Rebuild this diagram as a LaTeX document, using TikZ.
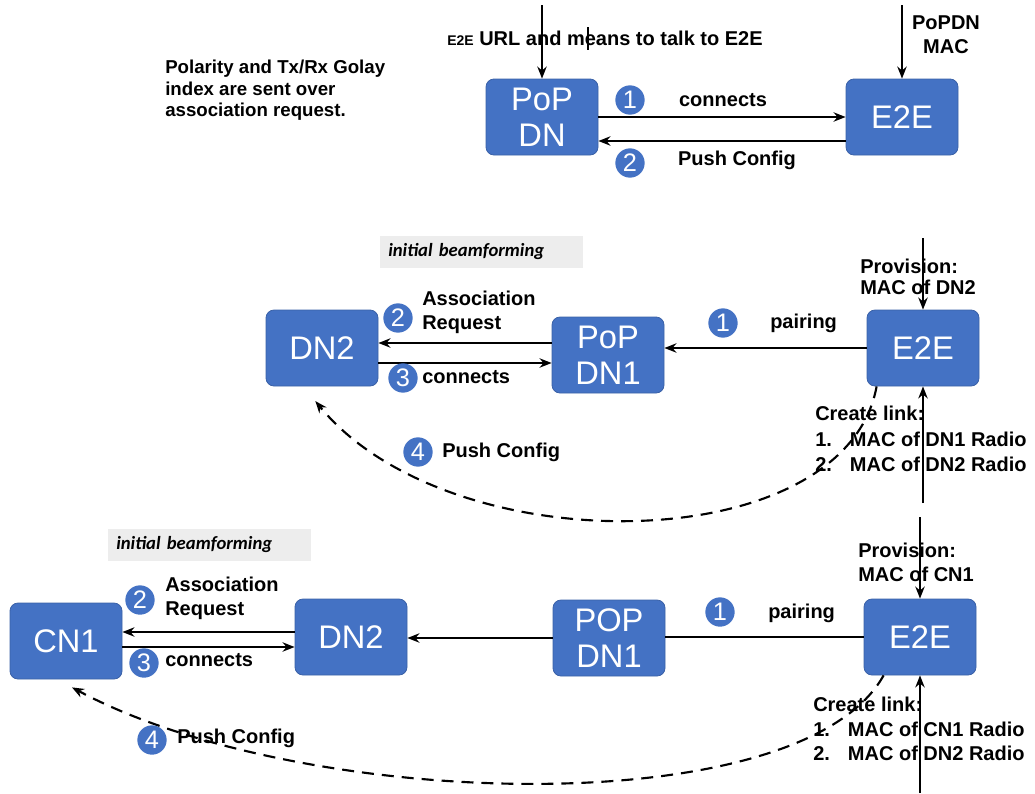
\documentclass[tikz,border=0pt]{standalone}
\usepackage{fontspec}
\setmainfont{Liberation Sans}
\newfontfamily\tagfont{Carlito}
\usetikzlibrary{arrows.meta,calc}
\definecolor{boxblue}{HTML}{4472C4}
\definecolor{graybg}{HTML}{EDEDED}
\begin{document}
\begin{tikzpicture}[x=0.75pt,y=-0.75pt,
 box/.style={draw=boxblue!85!black, line width=0.6pt, fill=boxblue, rounded corners=6pt,
   minimum width=84pt, minimum height=57pt, text=white,
   font=\fontsize{24.5}{27}\selectfont, align=center, inner sep=0pt},
 num/.style={circle, fill=boxblue, text=white, minimum size=22pt, inner sep=0pt,
   font=\fontsize{19}{19}\selectfont},
 lbl/.style={font=\bfseries\fontsize{15}{18}\selectfont, align=left, inner sep=0pt},
 arr/.style={-{Stealth[length=9pt,width=7pt]}, line width=1.7pt},
 pln/.style={line width=1.7pt},
 dsh/.style={dash pattern=on 9pt off 6pt, line width=1.6pt, -{Stealth[length=9pt,width=7pt]}},
 tag/.style={fill=graybg, minimum height=24pt, text width=140pt, align=left, inner xsep=6pt,
   font=\tagfont\bfseries\itshape\fontsize{14}{15}\selectfont}
]
\useasboundingbox (0,0) rectangle (1035,793);

% ---------- top section ----------
\node[box] (pdn) at (542,117) {PoP\\DN};
\node[box] (e2ea) at (902,117) {E2E};

\draw[arr] (pdn.north |- 0,5) -- (pdn.north);
\draw[arr] (e2ea.north |- 0,5) -- (e2ea.north);
\node[lbl, anchor=west] (url) at (447,38) {{\fontsize{10.5}{12}\selectfont E2E} URL and means to talk to E2E};
\draw[line width=0.8pt] (588,27) -- (588,50);
\node[lbl, align=center] (popdnmac) at (946,35) {PoPDN\\MAC};
\node[lbl, anchor=north west, font=\bfseries\fontsize{14}{16}\selectfont] (pol) at (165,60)
  {Polarity and Tx/Rx Golay\\index are sent over\\association request.};

\draw[arr] (pdn.east) -- (pdn.east -| e2ea.west);
\coordinate (pc) at ([yshift=-18pt]e2ea.west);
\draw[arr] (pc) -- (pc -| pdn.east);
\node[num] (n1a) at (630,100) {1};
\node[lbl] (conA) at (723,100) {connects};
\node[num] (n2a) at (630,163) {2};
\node[lbl] (pushA) at (737,160) {Push Config};

% ---------- middle section ----------
\node[tag, anchor=west] (tag1) at (380,252) {initial beamforming};
\node[box] (dn2a) at (322,348) {DN2};
\node[box] (pdn1a) at (608,355) {PoP\\DN1};
\node[box] (e2eb) at (923,348) {E2E};

\draw[arr] (e2eb.west) -- (e2eb.west -| pdn1a.east);
\node[num] (n1b) at (723,323) {1};
\node[lbl, anchor=west] (pairB) at (770,323) {pairing};

\coordinate (a1) at ([yshift=3.75pt]dn2a.east);
\draw[arr] (a1 -| pdn1a.west) -- (a1);
\coordinate (a2) at ([yshift=-11.25pt]dn2a.east);
\draw[arr] (a2) -- (a2 -| pdn1a.west);
\node[num] (n2b) at (398,318) {2};
\node[lbl, anchor=west] (assB) at (422,312) {Association\\Request};
\node[num] (n3b) at (403,378) {3};
\node[lbl, anchor=west] (conB) at (422,377) {connects};

\draw[arr] (e2eb.north |- 0,238) -- (e2eb.north);
\node[lbl, anchor=west, font=\bfseries\fontsize{15}{16}\selectfont] (provB) at (860,277) {Provision:\\MAC of DN2};
\draw[arr] (e2eb.south |- 0,503) -- (e2eb.south);
\node[lbl, anchor=west, font=\bfseries\fontsize{15}{19}\selectfont] (clB) at (815,439)
  {Create link:\\\makebox[26pt][l]{1.}MAC of DN1 Radio\\\makebox[26pt][l]{2.}MAC of DN2 Radio};

\draw[dsh] ([xshift=7.5pt]e2eb.south west) .. controls (845,560) and (450,565) .. ([xshift=-5pt,yshift=-11pt]dn2a.south);
\node[num] (n4b) at (418,452) {4};
\node[lbl, anchor=west] (pushB) at (442,452) {Push Config};

% ---------- bottom section ----------
\node[tag, anchor=west] (tag2) at (108,545) {initial beamforming};
\node[box] (cn1) at (66,641) {CN1};
\node[box] (dn2b) at (351,637) {DN2};
\node[box] (pdn1b) at (609,638) {POP\\DN1};
\node[box] (e2ec) at (920,637) {E2E};

\draw[pln] (e2ec.west) -- (e2ec.west -| pdn1b.east);
\draw[arr] (pdn1b.west) -- (pdn1b.west -| dn2b.east);
\node[num] (n1c) at (720,612) {1};
\node[lbl, anchor=west] (pairC) at (768,613) {pairing};

\coordinate (b1) at ([yshift=3.75pt]dn2b.west);
\draw[arr] (b1) -- (b1 -| cn1.east);
\coordinate (b2) at ([yshift=-7.5pt]dn2b.west);
\draw[arr] (b2 -| cn1.east) -- (b2);
\node[num] (n2c) at (140,600) {2};
\node[lbl, anchor=west] (assC) at (165,598) {Association\\Request};
\node[num] (n3c) at (144,663) {3};
\node[lbl, anchor=west] (conC) at (165,660) {connects};

\draw[arr] (e2ec.north |- 0,517) -- (e2ec.north);
\node[lbl, anchor=west, font=\bfseries\fontsize{15}{18}\selectfont] (provC) at (858,562) {Provision:\\MAC of CN1};
\draw[arr] (e2ec.south |- 0,793) -- (e2ec.south);
\node[lbl, anchor=west, font=\bfseries\fontsize{15}{18.5}\selectfont] (clC) at (813,729)
  {Create link:\\\makebox[26pt][l]{1.}MAC of CN1 Radio\\\makebox[26pt][l]{2.}MAC of DN2 Radio};

\draw[dsh] ([xshift=15pt]e2ec.south west) .. controls (800,825) and (300,810) .. ([xshift=4.5pt,yshift=-6pt]cn1.south);
\node[num] (n4c) at (152,740) {4};
\node[lbl, anchor=west] (pushC) at (177,738) {Push Config};
\end{tikzpicture}
\end{document}
